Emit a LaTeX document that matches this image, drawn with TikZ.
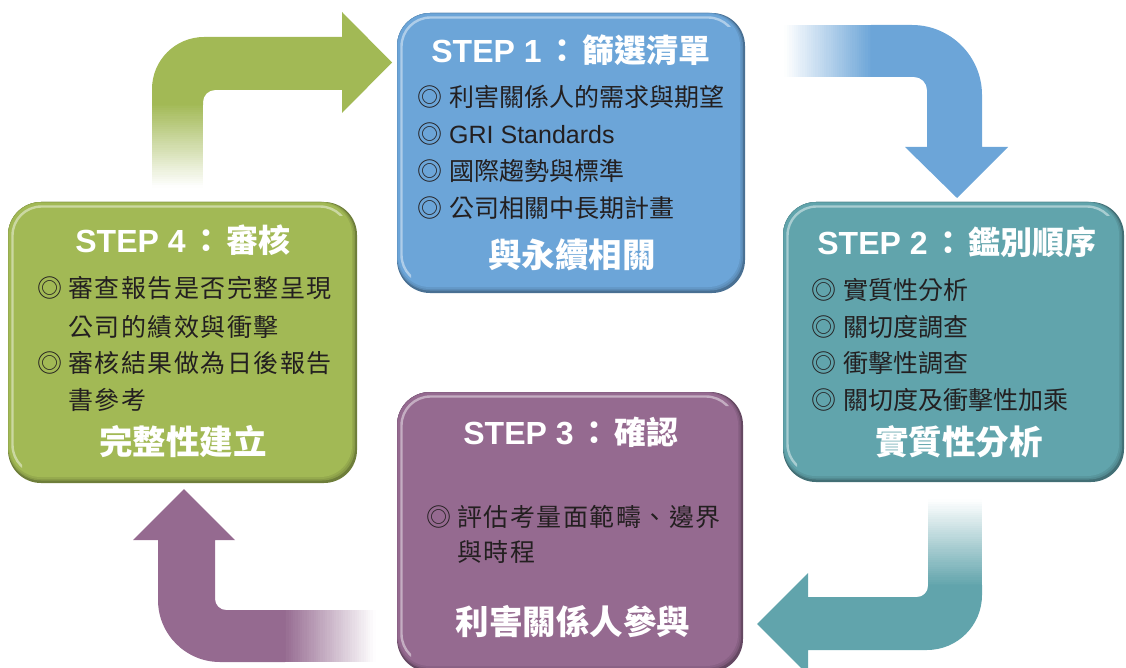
\documentclass[tikz,border=0pt]{standalone}
\usepackage{fontspec}
\setmainfont{Liberation Sans}
\newfontfamily\cjk{Noto Sans CJK TC}
\definecolor{cblue}{HTML}{6CA5D8}
\definecolor{cgreen}{HTML}{A2B955}
\definecolor{cteal}{HTML}{61A4AC}
\definecolor{cpurple}{HTML}{956A90}
\definecolor{ctext}{HTML}{231F20}
\newcommand\bevelbox[5]{%
  \fill[#5!68!black, rounded corners=33pt] (#1,#2) rectangle (#3,#4);
  \fill[#5!84!black, rounded corners=33pt] (#1,#2) rectangle (#3-2,#4-2.5);
  \fill[#5!92!black, rounded corners=33pt] (#1,#2) rectangle (#3-3.5,#4-4);
  \fill[#5, rounded corners=32pt] (#1+0.8,#2+0.8) rectangle (#3-5,#4-6);
  \begin{scope}
    \clip (#1,#2) -- (#3,#2) -- (#3,#2+14) -- (#1+14,#2+14) -- (#1+14,#4) -- (#1,#4) -- cycle;
    \draw[white, opacity=.45, line width=2.4pt, rounded corners=29pt] (#1+4.5,#2+4.5) rectangle (#3-8,#4-9);
  \end{scope}}
% vertical fade: x1, x2, y (full colour), y (white), colour
\newcommand\vfade[5]{%
  \foreach \i in {0,...,39}{%
    \pgfmathsetmacro\ya{#3+(#4-#3)*\i/40}%
    \pgfmathsetmacro\yb{#3+(#4-#3)*(\i+1.3)/40}%
    \pgfmathsetmacro\pc{100*(1-(\i+0.5)/40)}%
    \fill[#5!\pc!white] (#1,\ya) rectangle (#2,\yb);}}
% horizontal fade: y1, y2, x (full colour), x (white), colour
\newcommand\hfade[5]{%
  \foreach \i in {0,...,39}{%
    \pgfmathsetmacro\xa{#3+(#4-#3)*\i/40}%
    \pgfmathsetmacro\xb{#3+(#4-#3)*(\i+1.3)/40}%
    \pgfmathsetmacro\pc{100*(1-(\i+0.5)/40)}%
    \fill[#5!\pc!white] (\xa,#1) rectangle (\xb,#2);}}
\newcommand\ttlc{\hspace{5pt}{\cjk ：}\hspace{4pt}}
\tikzset{
  ttl/.style={text=white, font=\fontsize{32}{32}\selectfont\bfseries, inner sep=0pt, anchor=center},
  body/.style={text=ctext, font=\fontsize{25}{25}\selectfont\cjk, inner sep=0pt, anchor=west},
  wbody/.style={body, font=\fontsize{25}{25}\selectfont\cjk\addfontfeature{LetterSpace=6}},
  lbl/.style={text=white, font=\fontsize{33.5}{34}\selectfont\cjk\bfseries, inner sep=0pt, anchor=center},
}
\begin{document}
\begin{tikzpicture}[x=1pt, y=-1pt]
\useasboundingbox (0,0) rectangle (1126,668);
\clip (0,0) rectangle (1126,668);
% arrows
\vfade{152}{203}{104}{187}{cgreen}
\fill[cgreen] (152,105) -- (152,89) .. controls (152,60.3) and (175.3,37) .. (204,37) -- (342,37) -- (342,12) -- (392,62.5) -- (342,113) -- (342,90) -- (215,90) .. controls (208.4,90) and (203,95.4) .. (203,102) -- (203,105) -- cycle;
\hfade{25}{77}{872}{785}{cblue}
\fill[cblue] (871,25) -- (912,25) .. controls (950.6,25) and (982,56.4) .. (982,95) -- (982,147) -- (1008,147) -- (957,198) -- (905,147) -- (927,147) -- (927,90) .. controls (927,82.8) and (921.2,77) .. (914,77) -- (871,77) -- cycle;
\vfade{928}{982}{586}{500}{cteal}
\fill[cteal] (928,585) -- (928,586) .. controls (928,592.1) and (923.1,597) .. (917,597) -- (808,597) -- (808,573) -- (757,624) -- (808,675) -- (808,650) -- (927,650) .. controls (957.4,650) and (982,625.4) .. (982,595) -- (982,585) -- cycle;
\hfade{610}{662}{284}{375}{cpurple}
\fill[cpurple] (285,610) -- (226,610) .. controls (219.9,610) and (215,605.1) .. (215,599) -- (215,540) -- (235,540) -- (184,489) -- (133,540) -- (158,540) -- (158,600) .. controls (158,634.2) and (185.8,662) .. (220,662) -- (285,662) -- cycle;
% boxes
\bevelbox{397}{13}{745}{293}{cblue}
\bevelbox{783}{202}{1124}{482}{cteal}
\bevelbox{8}{202}{357}{483}{cgreen}
\bevelbox{397}{392}{743}{672}{cpurple}
% STEP 1
\node[ttl] (t1) at (571,50) {STEP 1\ttlc{\cjk 篩選清單}};
\node[body] (b11) at (417,97) {◎\hspace{7pt}利害關係人的需求與期望};
\node[body] (b12) at (417,134) {◎\hspace{7pt}{\rmfamily GRI Standards}};
\node[body] (b13) at (417,171) {◎\hspace{7pt}國際趨勢與標準};
\node[body] (b14) at (417,208) {◎\hspace{7pt}公司相關中長期計畫};
\node[lbl] (l1) at (572,255) {與永續相關};
% STEP 2
\node[ttl] (t2) at (957,242) {STEP 2\ttlc{\cjk 鑑別順序}};
\node[body] (b21) at (811,290) {◎\hspace{7pt}實質性分析};
\node[body] (b22) at (811,327) {◎\hspace{7pt}關切度調查};
\node[body] (b23) at (811,363) {◎\hspace{7pt}衝擊性調查};
\node[body] (b24) at (811,400) {◎\hspace{7pt}關切度及衝擊性加乘};
\node[lbl] (l2) at (959,442) {實質性分析};
% STEP 3
\node[ttl] (t3) at (571,432) {STEP 3\ttlc{\cjk 確認}};
\node[wbody] (b31) at (426,517) {◎\hspace{6pt}評估考量面範疇、邊界};
\node[wbody] (b32) at (457,552) {與時程};
\node[lbl] (l3) at (573,622) {利害關係人參與};
% STEP 4
\node[ttl] (t4) at (183,240) {STEP 4\ttlc{\cjk 審核}};
\node[wbody] (b41) at (37,288) {◎\hspace{6pt}審查報告是否完整呈現};
\node[wbody] (b42) at (68,327) {公司的績效與衝擊};
\node[wbody] (b43) at (37,363) {◎\hspace{6pt}審核結果做為日後報告};
\node[wbody] (b44) at (68,400) {書參考};
\node[lbl] (l4) at (183,442) {完整性建立};
\end{tikzpicture}
\end{document}
